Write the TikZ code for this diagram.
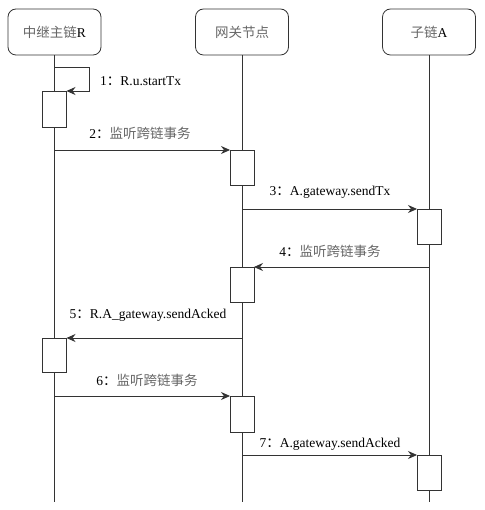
\documentclass[tikz,border=0pt]{standalone}
\usepackage{fontspec}
\setmainfont{Liberation Serif}
\newfontfamily\cjk{Noto Sans CJK SC}
\usetikzlibrary{arrows.meta}
\newcommand{\zhtxt}[1]{{\cjk\color{black!60}#1}}
\newcommand{\zhcolon}{{\cjk ：}}
\tikzset{
  ln/.style={draw=black!80, line width=0.8pt},
  hdr/.style={ln, rounded corners=8pt, minimum width=93pt, minimum height=46pt, inner sep=0pt, font=\fontsize{13.5}{16}\selectfont},
  act/.style={ln, fill=white, minimum width=24pt, minimum height=35pt, inner sep=0pt, outer sep=0pt},
  msg/.style={ln, -{Stealth[length=9pt,width=8pt,inset=3pt]}},
  lbl/.style={inner sep=0pt, font=\fontsize{13.5}{16}\selectfont}
}
\begin{document}
\begin{tikzpicture}[x=1pt,y=-1pt]
\useasboundingbox (0,0) rectangle (484,510);
% headers
\node[hdr] (R) at (54.5,32) {\zhtxt{中继主链}R};
\node[hdr] (G) at (242,32) {\zhtxt{网关节点}};
\node[hdr] (A) at (429,32) {\zhtxt{子链}A};
\coordinate (Rend) at (54.5,502);
\coordinate (Gend) at (242,502);
\coordinate (Aend) at (429,502);
% lifelines
\draw[ln] (R.south) -- (Rend);
\draw[ln] (G.south) -- (Gend);
\draw[ln] (A.south) -- (Aend);
% activations
\node[act, anchor=north, minimum height=36pt] (r1) at (54.5,91) {};
\node[act, anchor=north] (g1) at (242,150) {};
\node[act, anchor=north] (a1) at (429,209) {};
\node[act, anchor=north] (g2) at (242,267) {};
\node[act, anchor=north, minimum height=34pt] (r2) at (54.5,338) {};
\node[act, anchor=north, minimum height=36pt] (g3) at (242,396) {};
\node[act, anchor=north] (a2) at (429,455) {};
% self message
\coordinate (s1) at (54.5,67);
\coordinate (s2) at (89,67);
\draw[msg] (s1) -- (s2) |- (r1.north east);
\node[lbl, anchor=west] (l1) at (100,81) {1\zhcolon R.u.startTx};
% messages
\draw[msg] (r1.south |- g1.north west) -- (g1.north west);
\node[lbl] (l2) at (140,133) {2\zhcolon\zhtxt{监听跨链事务}};
\draw[msg] (g1.south |- a1.north west) -- (a1.north west);
\node[lbl] (l3) at (330,192) {3\zhcolon A.gateway.sendTx};
\draw[msg] (a1.south |- g2.north east) -- (g2.north east);
\node[lbl] (l4) at (330,251) {4\zhcolon\zhtxt{监听跨链事务}};
\draw[msg] (g2.south |- r2.north east) -- (r2.north east);
\node[lbl] (l5) at (148,315) {5\zhcolon R.A\_gateway.sendAcked};
\draw[msg] (r2.south |- g3.north west) -- (g3.north west);
\node[lbl] (l6) at (147,380) {6\zhcolon\zhtxt{监听跨链事务}};
\draw[msg] (g3.south |- a2.north west) -- (a2.north west);
\node[lbl] (l7) at (330,444) {7\zhcolon A.gateway.sendAcked};
\end{tikzpicture}
\end{document}
